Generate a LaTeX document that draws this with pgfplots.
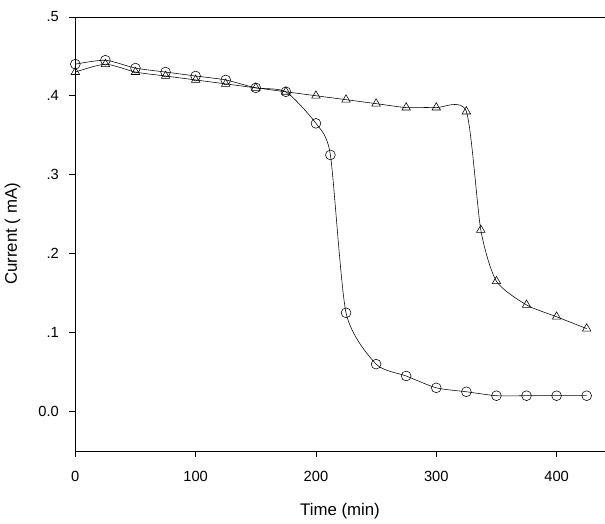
\documentclass[border=0pt]{standalone}
\usepackage{pgfplots}
\pgfplotsset{compat=1.18}
\usepackage{fontspec}
\setmainfont{Liberation Sans}
\begin{document}
\begin{tikzpicture}
\begin{axis}[
  name=ax,
  scale only axis, width=378pt, height=310pt,
  xmin=0, xmax=440, ymin=-0.05, ymax=0.5,
  axis x line*=bottom, axis y line*=left,
  xtick={0,100,200,300,400},
  ytick={0,0.1,0.2,0.3,0.4,0.5},
  yticklabels={0.0,.1,.2,.3,.4,.5},
  tick align=outside, tick style={black, thin},
  /pgf/number format/assume math mode=true,
  xlabel={Time (min)}, ylabel={Current ( mA)},
  tick label style={font=\fontsize{10.5}{12}\selectfont},
  label style={font=\fontsize{12}{14}\selectfont},
  yticklabel style={xshift=-4pt},
  xticklabel style={yshift=-7pt},
  xlabel style={yshift=-8pt},
  ylabel style={yshift=6pt},
  clip=false,
]
\draw[black] (axis cs:0,0.5) -- (axis cs:440,0.5);
\addplot[black, smooth, tension=0.4, mark=triangle, mark size=3.5pt, mark options={fill=white}] coordinates {
(0,0.43)(25,0.44)(50,0.43)(75,0.425)(100,0.42)(125,0.415)(150,0.41)(175,0.405)(200,0.40)(225,0.395)(250,0.39)(275,0.385)(300,0.385)(325,0.38)(337,0.23)(350,0.165)(375,0.135)(400,0.12)(425,0.105)};
\addplot[black, smooth, tension=0.4, mark=o, mark size=3.5pt, mark options={fill=white}] coordinates {
(0,0.44)(25,0.445)(50,0.435)(75,0.43)(100,0.425)(125,0.42)(150,0.41)(175,0.405)(200,0.365)(212,0.325)(225,0.125)(250,0.06)(275,0.045)(300,0.03)(325,0.025)(350,0.02)(375,0.02)(400,0.02)(425,0.02)};
\end{axis}
\path (ax.north west) ++(0,12pt) coordinate (t);
\path (t) -- (ax.north west);
\end{tikzpicture}
\end{document}
